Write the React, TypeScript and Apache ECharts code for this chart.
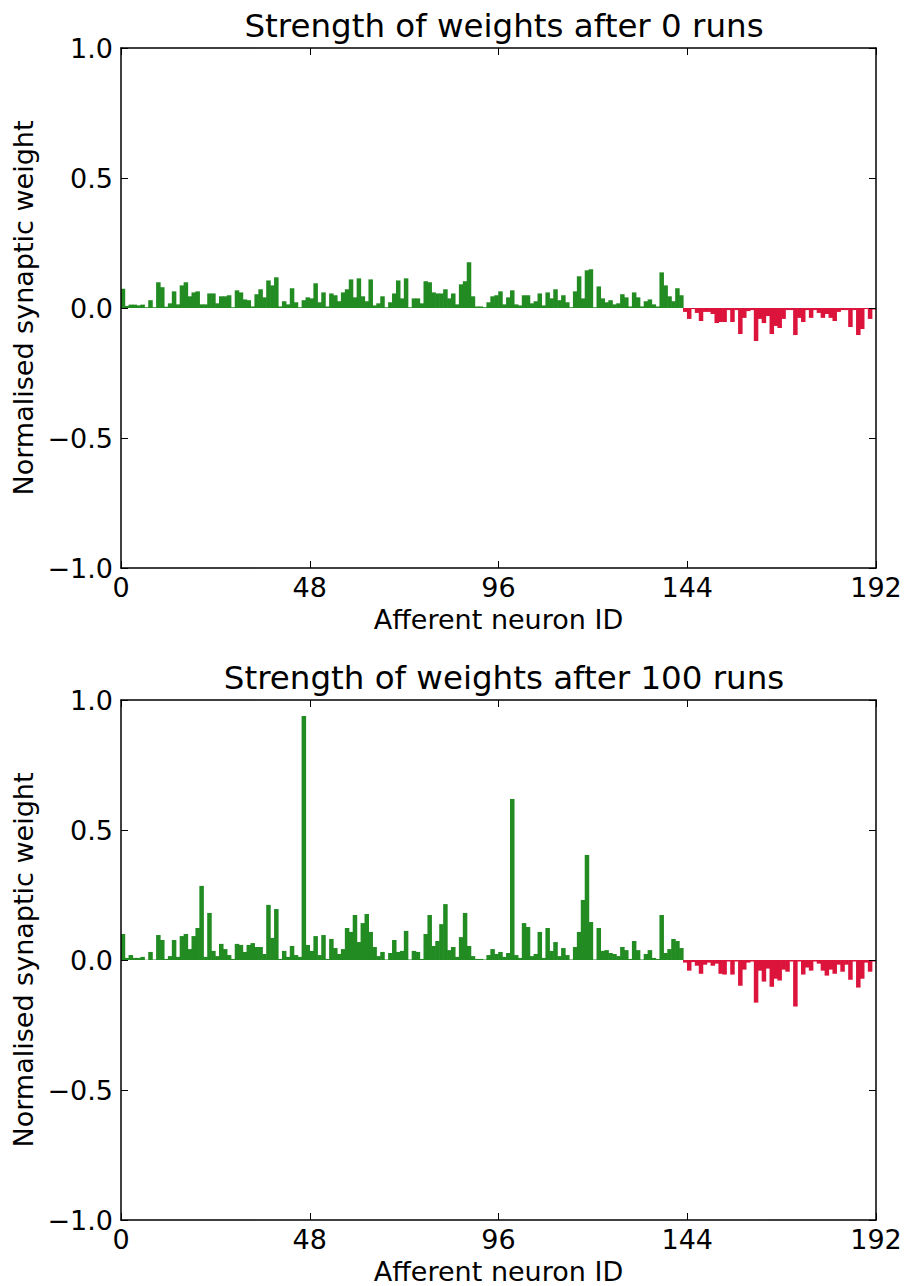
import React, { useEffect, useRef } from "react";
import * as echarts from "echarts";

const FONT = "DejaVu Sans";
const GREEN = "#228B22";
const RED = "#DC143C";

const TITLES = ["Strength of weights after 0 runs", "Strength of weights after 100 runs"];
const X_LABEL = "Afferent neuron ID";
const Y_LABEL = "Normalised synaptic weight";
const X_TICKS = [0, 48, 96, 144, 192];
const Y_TICKS = [-1.0, -0.5, 0.0, 0.5, 1.0];

const weightsAfter0 = [
  0.074, 0.008, 0.013, 0.013, 0.010, 0.013, 0.003, 0.030, 0.003, 0.099,
  0.080, 0.005, 0.018, 0.064, 0.014, 0.087, 0.099, 0.045, 0.060, 0.064,
  0.014, 0.014, 0.056, 0.056, 0.018, 0.045, 0.045, 0.049, 0.003, 0.068,
  0.060, 0.033, 0.030, 0.006, 0.053, 0.072, 0.041, 0.106, 0.087, 0.118,
  0.006, 0.026, 0.014, 0.076, 0.022, 0.003, 0.030, 0.041, 0.037, 0.095,
  0.022, 0.060, 0.006, 0.056, 0.049, 0.026, 0.060, 0.072, 0.110, 0.041,
  0.114, 0.045, 0.026, 0.110, 0.010, 0.018, 0.045, 0.003, 0.022, 0.056,
  0.106, 0.037, 0.114, 0.003, 0.037, 0.037, 0.018, 0.103, 0.099, 0.060,
  0.056, 0.056, 0.072, 0.037, 0.056, 0.014, 0.091, 0.103, 0.176, 0.045,
  0.006, 0.006, 0.003, 0.022, 0.045, 0.049, 0.064, 0.014, 0.041, 0.068,
  0.014, 0.010, 0.049, 0.049, 0.018, 0.026, 0.056, 0.010, 0.060, 0.037,
  0.072, 0.030, 0.049, 0.022, 0.003, 0.064, 0.122, 0.037, 0.145, 0.149,
  0.003, 0.083, 0.037, 0.022, 0.030, 0.014, 0.018, 0.053, 0.041, 0.006,
  0.060, 0.041, 0.006, 0.026, 0.033, 0.014, 0.006, 0.137, 0.087, 0.045,
  0.026, 0.076, 0.049,
  -0.015, -0.042, -0.004, -0.019, -0.050, -0.015, -0.015,
  -0.023, -0.058, -0.054, -0.054, -0.008, -0.054, -0.008, -0.100, -0.038,
  -0.012, -0.008, -0.127, -0.042, -0.058, -0.031, -0.100, -0.069, -0.077,
  -0.042, -0.008, -0.008, -0.104, -0.038, -0.054, -0.008, -0.038, -0.008,
  -0.019, -0.038, -0.023, -0.038, -0.050, -0.015, -0.008, -0.008, -0.073,
  -0.008, -0.104, -0.081, -0.004, -0.042, -0.006,
];

const weightsAfter100 = [
  0.100, 0.008, 0.019, 0.008, 0.008, 0.012, 0.001, 0.031, 0.002, 0.096,
  0.077, 0.004, 0.015, 0.077, 0.012, 0.092, 0.100, 0.042, 0.092, 0.123,
  0.285, 0.012, 0.181, 0.035, 0.015, 0.062, 0.042, 0.019, 0.004, 0.062,
  0.058, 0.031, 0.058, 0.065, 0.050, 0.050, 0.023, 0.212, 0.085, 0.196,
  0.004, 0.035, 0.012, 0.054, 0.019, 0.012, 0.938, 0.058, 0.035, 0.092,
  0.019, 0.096, 0.004, 0.081, 0.046, 0.023, 0.042, 0.123, 0.108, 0.173,
  0.069, 0.142, 0.177, 0.108, 0.050, 0.015, 0.031, 0.002, 0.027, 0.077,
  0.031, 0.035, 0.112, 0.002, 0.035, 0.031, 0.004, 0.100, 0.173, 0.054,
  0.073, 0.138, 0.215, 0.038, 0.050, 0.012, 0.088, 0.181, 0.054, 0.015,
  0.004, 0.004, 0.002, 0.019, 0.042, 0.023, 0.031, 0.012, 0.027, 0.619,
  0.019, 0.008, 0.142, 0.127, 0.015, 0.023, 0.108, 0.008, 0.123, 0.035,
  0.069, 0.015, 0.046, 0.019, 0.002, 0.050, 0.108, 0.231, 0.404, 0.146,
  0.002, 0.123, 0.035, 0.038, 0.027, 0.023, 0.015, 0.050, 0.038, 0.004,
  0.073, 0.038, 0.002, 0.023, 0.038, 0.008, 0.004, 0.173, 0.027, 0.042,
  0.081, 0.073, 0.046,
  -0.010, -0.041, -0.008, -0.022, -0.053, -0.018, -0.010,
  -0.022, -0.014, -0.053, -0.056, -0.006, -0.056, -0.006, -0.099, -0.037,
  -0.010, -0.006, -0.164, -0.041, -0.083, -0.033, -0.103, -0.072, -0.079,
  -0.037, -0.045, -0.006, -0.179, -0.006, -0.056, -0.029, -0.041, -0.006,
  -0.014, -0.041, -0.060, -0.037, -0.053, -0.018, -0.045, -0.018, -0.076,
  -0.006, -0.106, -0.072, -0.010, -0.045, -0.006,
];

const PANELS = [weightsAfter0, weightsAfter100];
const NEURON_IDS = weightsAfter0.map((_, i) => String(i));

const fmtY = (v: number) => (v < 0 ? "\u2212" : "") + Math.abs(v).toFixed(1);

function buildOption() {
  const grids: any[] = [];
  const xAxes: any[] = [];
  const yAxes: any[] = [];
  const series: any[] = [];
  const titles: any[] = [];
  const tops = [48, 700];
  const line = { show: true, onZero: false, lineStyle: { color: "#000", width: 1.5 } };
  const tick = { show: true, inside: true, length: 7, lineStyle: { color: "#000", width: 1 } };
  const labelStyle = { fontFamily: FONT, fontSize: 27, color: "#000" };

  PANELS.forEach((values, p) => {
    grids.push({ left: 121, top: tops[p], width: 755, height: 520, containLabel: false });
    titles.push({
      text: TITLES[p],
      left: 499,
      top: tops[p] - 44,
      textAlign: "center",
      textStyle: { fontFamily: FONT, fontSize: 32.5, fontWeight: "normal", color: "#000" },
    });
    xAxes.push({
      type: "category",
      gridIndex: p,
      data: NEURON_IDS,
      boundaryGap: true,
      show: false,
    });
    xAxes.push({
      type: "value",
      gridIndex: p,
      position: "bottom",
      min: X_TICKS[0],
      max: X_TICKS[X_TICKS.length - 1],
      interval: 48,
      axisLine: line,
      axisTick: tick,
      splitLine: { show: false },
      axisLabel: { ...labelStyle, margin: 6, showMinLabel: true, showMaxLabel: true },
      name: X_LABEL,
      nameLocation: "middle",
      nameGap: 38,
      nameTextStyle: labelStyle,
      z: 5,
    });
    xAxes.push({
      type: "value",
      gridIndex: p,
      position: "top",
      min: X_TICKS[0],
      max: X_TICKS[X_TICKS.length - 1],
      interval: 48,
      axisLine: line,
      axisTick: tick,
      splitLine: { show: false },
      axisLabel: { show: false },
      z: 5,
    });
    yAxes.push({
      type: "value",
      gridIndex: p,
      position: "left",
      min: Y_TICKS[0],
      max: Y_TICKS[Y_TICKS.length - 1],
      interval: 0.5,
      axisLine: line,
      axisTick: tick,
      splitLine: { show: false },
      axisLabel: { ...labelStyle, margin: 8, formatter: fmtY, showMinLabel: true, showMaxLabel: true },
      name: Y_LABEL,
      nameLocation: "middle",
      nameGap: 80,
      nameTextStyle: labelStyle,
      z: 5,
    });
    yAxes.push({
      type: "value",
      gridIndex: p,
      position: "right",
      min: Y_TICKS[0],
      max: Y_TICKS[Y_TICKS.length - 1],
      interval: 0.5,
      axisLine: line,
      axisTick: tick,
      splitLine: { show: false },
      axisLabel: { show: false },
      z: 5,
    });
    series.push({
      type: "bar",
      xAxisIndex: 3 * p,
      yAxisIndex: 2 * p,
      barCategoryGap: "-15%",
      data: values.map((v) => ({ value: v, itemStyle: { color: v >= 0 ? GREEN : RED } })),
      z: 2,
    });
  });

  return {
    animation: false,
    backgroundColor: "#fff",
    title: titles,
    grid: grids,
    xAxis: xAxes,
    yAxis: yAxes,
    series,
  };
}

export default function App() {
  const ref = useRef<HTMLDivElement>(null);
  useEffect(() => {
    if (!ref.current) return;
    const chart = echarts.init(ref.current, null, { renderer: "svg" });
    chart.setOption(buildOption());
    return () => chart.dispose();
  }, []);
  return (
    <div
      ref={ref}
      style={{ position: "absolute", left: 0, top: 0, width: 908, height: 1286, background: "#fff" }}
    />
  );
}
